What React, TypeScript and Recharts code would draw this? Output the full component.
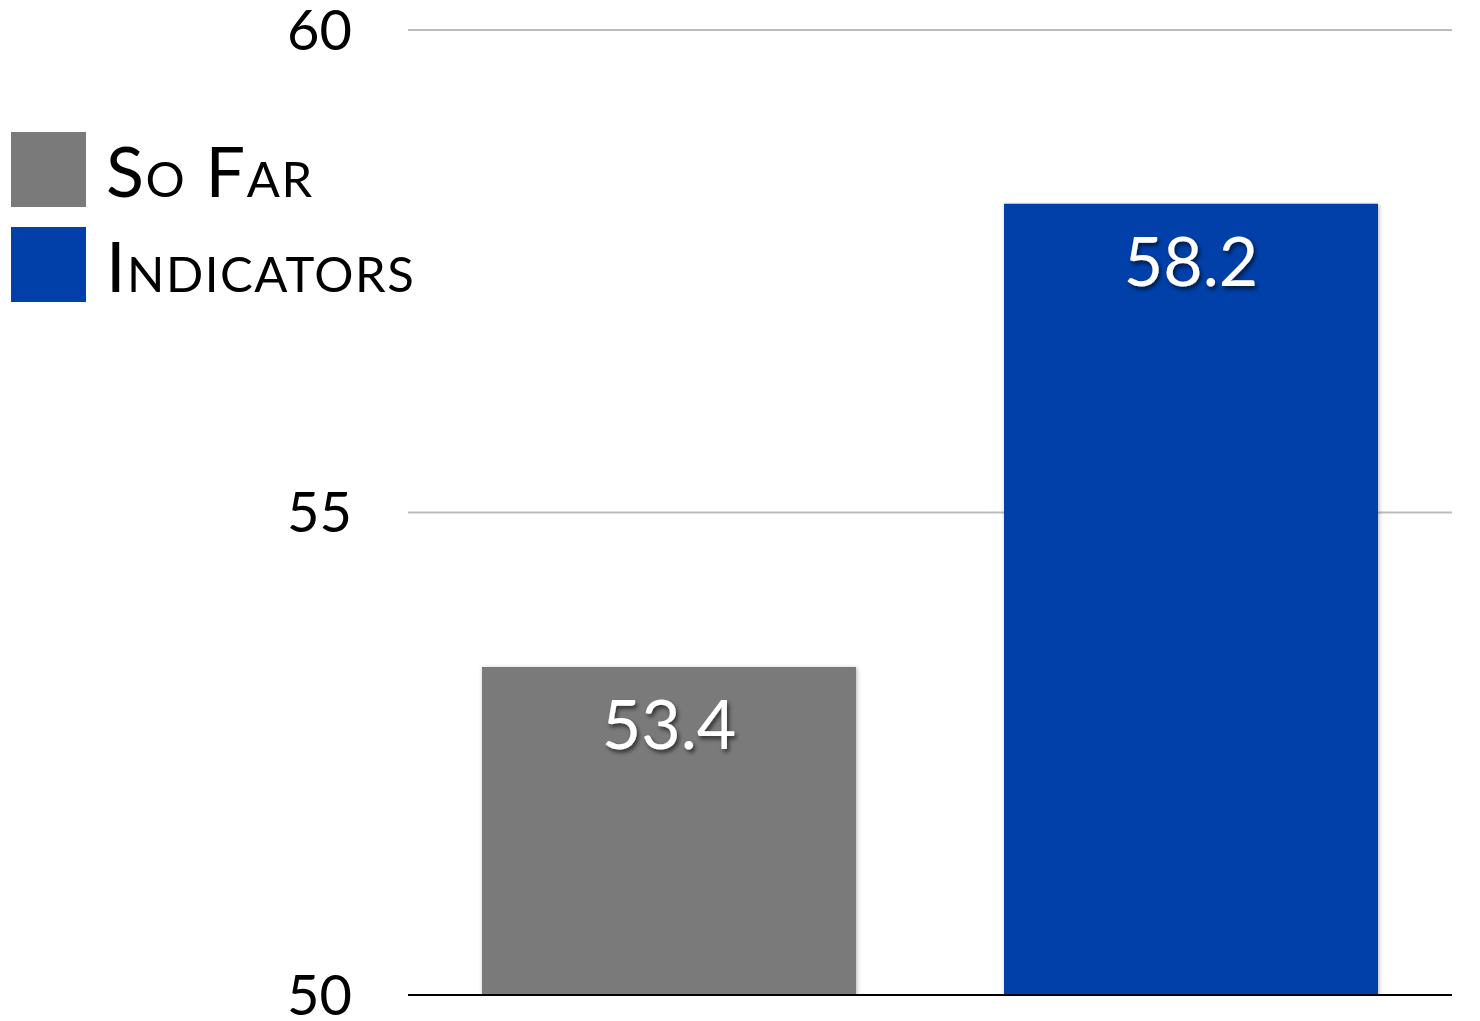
import React from 'react';
import { BarChart, Bar, XAxis, YAxis, CartesianGrid, Cell, LabelList, ReferenceLine } from 'recharts';

const categories = ['So Far', 'Indicators'];
const values = [53.4, 58.2];
const colors = ['#7a7a7a', '#0040a8'];
const yTicks = [50, 55, 60];

const data = categories.map((name, i) => ({ name, value: values[i], color: colors[i] }));

const FONT = 'Lato, "Open Sans", sans-serif';

const LegendBlock = () => (
  <div style={{ position: 'absolute', left: 11, top: 122, fontFamily: FONT }}>
    {categories.map((c, i) => (
      <div key={c} style={{ display: 'flex', alignItems: 'center', height: 95 }}>
        <div style={{ width: 75, height: 75, background: colors[i] }} />
        <span style={{ marginLeft: 20, fontSize: 70, fontVariant: 'small-caps', color: '#000', lineHeight: 1, letterSpacing: 1.5 }}>{c}</span>
      </div>
    ))}
  </div>
);

const ValueLabel = (props: any) => {
  const { x, y, width, value } = props;
  return (
    <text
      x={x + width / 2}
      y={y + 82}
      textAnchor="middle"
      fill="#fff"
      fontSize={68}
      fontFamily={FONT}
      filter="url(#txtShadow)"
    >
      {Number(value).toFixed(1)}
    </text>
  );
};

export default function App() {
  return (
    <div style={{ position: 'absolute', left: 0, top: 0, width: 1480, height: 1021, background: '#fff' }}>
      <BarChart width={1480} height={1021} data={data} margin={{ top: 30, right: 28, bottom: 26, left: 0 }} style={{ overflow: 'visible' }}>
        <defs>
          <filter id="barShadow" x="-5%" y="-5%" width="110%" height="110%">
            <feDropShadow dx="1" dy="1" stdDeviation="2" floodColor="#000" floodOpacity="0.3" />
          </filter>
          <filter id="txtShadow" x="-10%" y="-10%" width="120%" height="130%">
            <feDropShadow dx="2" dy="3" stdDeviation="2" floodColor="#000" floodOpacity="0.6" />
          </filter>
        </defs>
        <CartesianGrid vertical={false} stroke="#bbbbbb" strokeWidth={2} />
        <XAxis dataKey="name" hide />
        <YAxis
          domain={[50, 60]}
          ticks={yTicks}
          interval={0}
          width={408}
          axisLine={false}
          tickLine={false}
          tickSize={0}
          tickMargin={56}
          tick={{ fill: '#000', fontSize: 56, fontFamily: FONT }}
          allowDataOverflow
        />
        <ReferenceLine y={50} stroke="#000" strokeWidth={2} />
        <Bar dataKey="value" barSize={374} isAnimationActive={false} filter="url(#barShadow)">
          {data.map((d) => (
            <Cell key={d.name} fill={d.color} />
          ))}
          <LabelList dataKey="value" content={<ValueLabel />} />
        </Bar>
      </BarChart>
      <LegendBlock />
    </div>
  );
}
